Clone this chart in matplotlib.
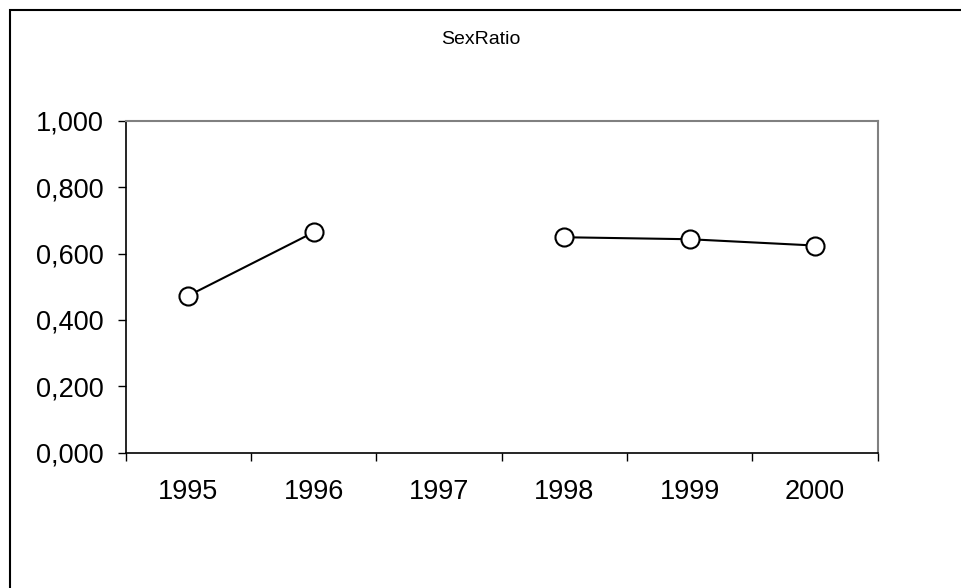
import matplotlib
matplotlib.use('Agg')
import matplotlib.pyplot as plt
from matplotlib.patches import Rectangle
from matplotlib.ticker import FuncFormatter, FixedLocator
import numpy as np

# data (1997 has no value)
years = ['1995', '1996', '1997', '1998', '1999', '2000']
sex_ratio = [0.473, 0.664, np.nan, 0.649, 0.643, 0.624]
y_ticks = [0.0, 0.2, 0.4, 0.6, 0.8, 1.0]

plt.rcParams['font.family'] = ['Liberation Sans', 'DejaVu Sans']

fig = plt.figure(figsize=(9.61, 5.88), dpi=100)
# outer chart border (only left and top edges fall inside the picture)
fig.patches.append(Rectangle((10 / 961, -0.1), 1.2, 1 - 10 / 588 + 0.1,
                             transform=fig.transFigure, fill=False,
                             edgecolor='black', linewidth=1.5))

ax = fig.add_axes([0.1308, 0.2301, 0.7825, 0.5646])
x = np.arange(len(years))
ax.plot(x, sex_ratio, color='black', linewidth=1.5, marker='o', markersize=13,
        markerfacecolor='white', markeredgecolor='black', markeredgewidth=1.5,
        zorder=5)

ax.set_xlim(-0.5, len(years) - 0.5)
ax.set_ylim(0, 1)

# category ticks sit between the labels
ax.xaxis.set_major_locator(FixedLocator(np.arange(-0.5, len(years), 1.0)))
ax.set_xticklabels([])
ax.set_xticks(x, minor=True)
ax.set_xticklabels(years, minor=True, fontsize=19.5)
ax.tick_params(axis='x', which='minor', length=0, pad=19)
ax.tick_params(axis='x', which='major', length=6, width=1, direction='out', color='black')

ax.set_yticks(y_ticks)
ax.yaxis.set_major_formatter(FuncFormatter(lambda v, p: f'{v:.3f}'.replace('.', ',')))
ax.tick_params(axis='y', length=6, width=1, direction='out', labelsize=19.5, pad=10, color='black')

for side in ['top', 'right']:
    ax.spines[side].set_color('#808080')
    ax.spines[side].set_linewidth(1.5)
for side in ['left', 'bottom']:
    ax.spines[side].set_color('black')
    ax.spines[side].set_linewidth(1.2)

fig.text(0.5, 1 - 40 / 588, 'SexRatio', ha='center', va='center', fontsize=14)

fig.savefig('out.png', dpi=100)
